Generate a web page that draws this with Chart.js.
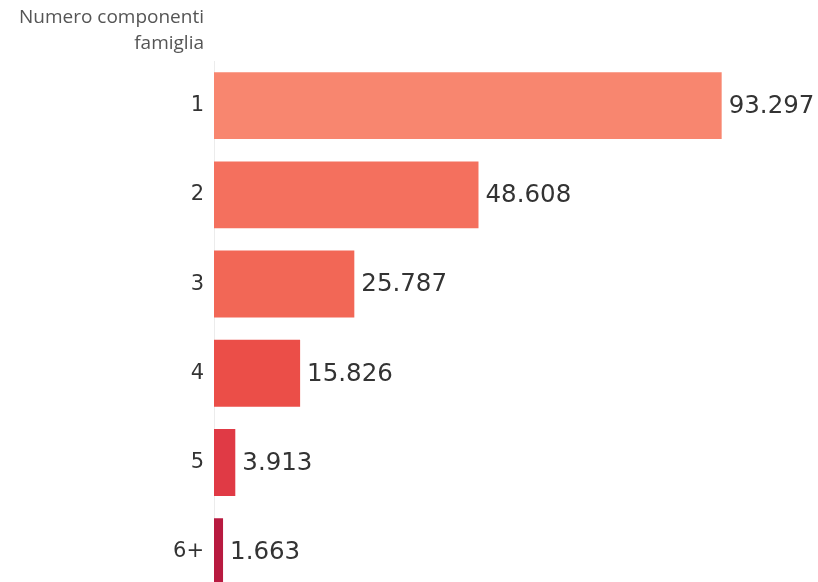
<!DOCTYPE html>
<html>
<head>
<meta charset="utf-8">
<script src="https://cdn.jsdelivr.net/npm/chart.js@4"></script>
<style>
  html, body { margin: 0; padding: 0; background: #fff; overflow: hidden; }
  #chartFamiglie { display: block; }
</style>
</head>
<body>
<canvas id="chartFamiglie" width="818" height="619"></canvas>
<script>
// componenti per famiglia
const categorie = ['1', '2', '3', '4', '5', '6+'];
const famiglie = [93297, 48608, 25787, 15826, 3913, 1663];
const colori = ['#F8866F', '#F4705E', '#F26756', '#EB4E48', '#E03A45', '#B81A40'];
const titoloAsse = ['Numero componenti', 'famiglia'];

function formatNum(v) {
  return v.toLocaleString('it-IT');
}

// valore scritto a destra di ogni barra
const etichette = {
  id: 'etichette',
  afterDatasetsDraw(chart) {
    const ctx = chart.ctx;
    const meta = chart.getDatasetMeta(0);
    ctx.save();
    ctx.font = '24.5px "DejaVu Sans"';
    ctx.fillStyle = '#333';
    ctx.textAlign = 'left';
    ctx.textBaseline = 'middle';
    meta.data.forEach(function(bar, i) {
      ctx.fillText(formatNum(famiglie[i]), bar.x + 7, bar.y + 1);
    });
    ctx.restore();
  }
};

// intestazione delle righe sopra le etichette
const intestazione = {
  id: 'intestazione',
  afterDraw(chart) {
    const ctx = chart.ctx;
    ctx.save();
    ctx.font = '19px "Open Sans"';
    ctx.fillStyle = '#555';
    ctx.textAlign = 'right';
    ctx.textBaseline = 'middle';
    ctx.fillText(titoloAsse[0], 204, 18);
    ctx.fillText(titoloAsse[1], 204, 44);
    ctx.restore();
  }
};

var ctxFam = document.getElementById('chartFamiglie').getContext('2d');
const chartFam = new Chart(ctxFam, {
  type: 'bar',
  data: {
    labels: categorie,
    datasets: [{
      data: famiglie,
      backgroundColor: colori,
      borderWidth: 0,
      categoryPercentage: 0.75,
      barPercentage: 1
    }]
  },
  options: {
    indexAxis: 'y',
    responsive: false,
    animation: false,
    layout: { padding: { top: 61, left: 0, right: 0, bottom: 0 } },
    plugins: {
      legend: { display: false },
      tooltip: { enabled: false }
    },
    scales: {
      x: {
        display: false,
        min: 0,
        max: 111000
      },
      y: {
        afterFit: function(scale) { scale.width = 214; },
        grid: { display: false, drawTicks: false },
        border: { display: true, color: '#ececec', width: 1 },
        ticks: {
          color: '#333',
          padding: 10,
          font: { family: '"DejaVu Sans"', size: 21 }
        }
      }
    }
  },
  plugins: [etichette, intestazione]
});
</script>
</body>
</html>
